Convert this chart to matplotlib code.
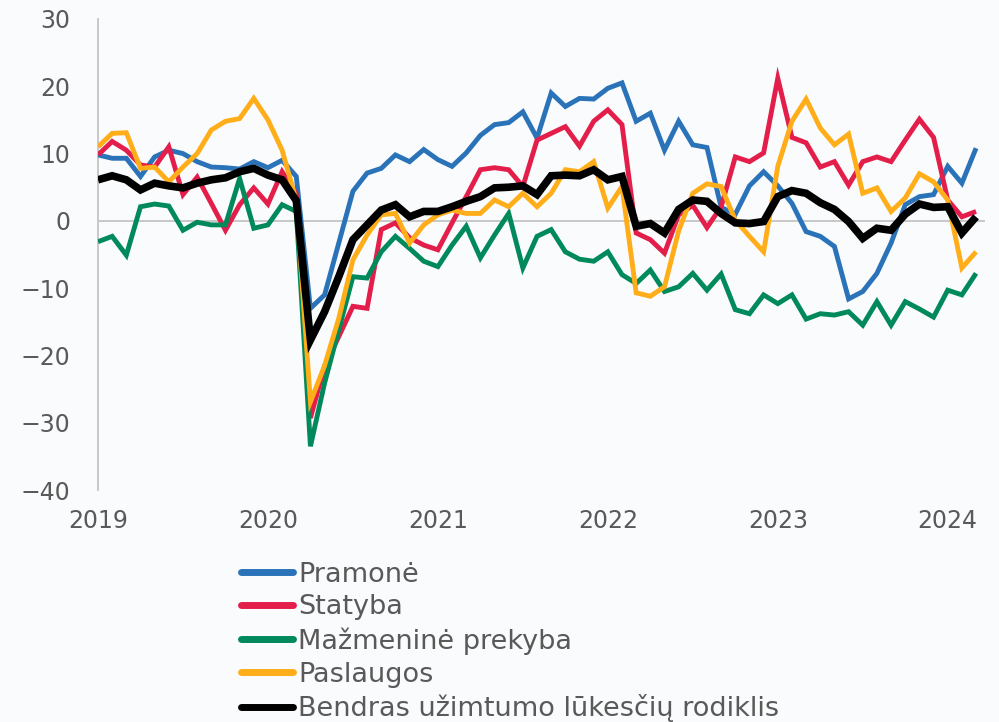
import numpy as np
import matplotlib
matplotlib.use("Agg")
import matplotlib.pyplot as plt

# monthly values, Jan 2019 .. Mar 2024
start_year = 2019
pramone = [9.8, 9.3, 9.3, 6.6, 9.5, 10.5, 10.0, 8.8, 8.0, 7.9, 7.7, 8.8, 7.9, 9.0, 6.6,
           -13.0, -11.0, -3.3,
           4.4, 7.1, 7.8, 9.8, 8.8, 10.6, 9.1, 8.1, 10.1, 12.7, 14.3,
           14.6, 16.2, 12.3, 19.0, 17.0, 18.2, 18.1, 19.7, 20.5, 14.8, 16.0, 10.5, 14.8, 11.3, 10.9,
           2.0, 1.0, 5.2, 7.3, 5.2, 2.6, -1.6, -2.3, -3.8, -11.6, -10.5, -7.8, -3.3, 2.4, 3.6, 3.9,
           8.1, 5.6, 10.8]
statyba = [9.8, 11.8, 10.5, 8.3, 8.0, 11.0, 3.9, 6.5, 2.6, -1.4, 2.4, 4.9, 2.5, 7.3, 4.0,
           -29.3, -21.6, -17.2, -12.7, -13.0, -1.3, -0.3, -2.5, -3.6, -4.3, -0.3, 3.6, 7.6, 7.9,
           7.6, 5.1, 12.0, 13.0, 14.0, 11.1, 14.8, 16.5, 14.3, -1.8, -2.8, -4.8, 0.9,
           2.3, -1.0, 2.1, 9.5, 8.8, 10.1, 21.2, 12.4, 11.6, 8.0, 8.8, 5.3, 8.8, 9.5, 8.8, 12.0,
           15.1, 12.4, 3.1, 0.6, 1.4]
prekyba = [-3.1, -2.3, -5.1, 2.1, 2.5, 2.2, -1.4, -0.2, -0.6, -0.6, 6.3, -1.1, -0.6, 2.4, 1.4,
           -33.5, -24.1, -16.2, -8.3, -8.5, -4.6, -2.3, -4.1, -6.0, -6.8, -3.6, -0.8,
           -5.5, -2.1, 1.1, -7.0, -2.3, -1.3, -4.6, -5.7, -6.0, -4.6, -8.0, -9.3, -7.3, -10.5,
           -9.8, -7.8, -10.3, -7.9,
           -13.2, -13.8, -11.0, -12.3, -11.0, -14.6, -13.8, -14.0, -13.5, -15.5, -12.0, -15.5,
           -12.0, -13.1, -14.3, -10.3, -11.0, -7.8]
paslaugos = [11.0, 13.0, 13.1, 7.8, 8.0, 5.8, 8.0, 10.0, 13.5, 14.8, 15.2, 18.2, 15.0, 10.5, 3.0,
             -26.9, -21.5, -14.5, -5.8, -2.1, 0.9, 1.1, -3.3, -0.6, 0.9, 1.6, 1.1,
             1.1, 3.1, 2.1, 4.1, 2.1, 4.1, 7.6, 7.3, 8.8, 1.9, 5.1, -10.7, -11.2, -9.8, -1.5,
             4.1, 5.5, 5.1, 0.1, -2.3, -4.6, 8.1, 14.8, 18.1, 13.8, 11.3, 12.9, 4.1, 4.9, 1.4,
             3.4, 7.0, 5.8, 3.1, -7.0, -4.6]
bendras = [6.1, 6.7, 6.1, 4.6, 5.6, 5.2, 4.9, 5.6, 6.1, 6.4, 7.3, 7.8, 6.8, 6.1, 3.0,
           -17.7, -13.5, -8.3, -2.8, -0.6, 1.6, 2.4, 0.6, 1.4, 1.4, 2.1, 2.9,
           3.6, 4.9, 5.0, 5.2, 3.9, 6.7, 6.8, 6.7, 7.6, 6.1, 6.6, -0.8, -0.4, -1.8, 1.7, 3.1,
           2.9, 1.1, -0.3, -0.4, -0.1, 3.6, 4.5, 4.1, 2.7, 1.7, -0.1, -2.6, -1.1, -1.4, 1.0,
           2.5, 2.0, 2.1, -1.8, 0.6]

labels = ["Pramonė", "Statyba", "Mažmeninė prekyba", "Paslaugos",
          "Bendras užimtumo lūkesčių rodiklis"]
colors = ["#2a73b9", "#e31e4b", "#00895b", "#ffae1a", "#000000"]
year_ticks = [2019, 2020, 2021, 2022, 2023, 2024]
y_ticks = [30, 20, 10, 0, -10, -20, -30, -40]

text_color = "#595959"
grid_color = "#c4c4c4"
bg = "#fafbfc"

x = start_year + np.arange(len(bendras)) / 12.0

fig = plt.figure(figsize=(9.99, 7.22), dpi=100, facecolor=bg)
ax = fig.add_axes([0.0981, 0.3213, 0.888, 0.6524])
ax.set_facecolor(bg)

series = [pramone, statyba, prekyba, paslaugos, bendras]
for values, label, color in zip(series, labels, colors):
    lw = 5.5 if color == "#000000" else 3.5
    ax.plot(x, values, color=color, lw=lw, label=label,
            solid_joinstyle="miter", solid_capstyle="butt", zorder=3)

ax.axhline(0, color=grid_color, lw=1.3, zorder=2)
ax.set_xlim(2019, 2024.22)
ax.set_ylim(-40, 30)
ax.set_xticks(year_ticks)
ax.set_yticks(y_ticks)
ax.tick_params(axis="both", length=0, labelsize=17, colors=text_color)
ax.tick_params(axis="x", pad=14)
ax.tick_params(axis="y", pad=20)
for side in ["top", "right", "bottom"]:
    ax.spines[side].set_visible(False)
ax.spines["left"].set_color(grid_color)
ax.spines["left"].set_linewidth(1.3)

handles, _ = ax.get_legend_handles_labels()
leg = fig.legend(handles, labels, loc="upper left", bbox_to_anchor=(0.241, 0.222),
                 frameon=False, fontsize=19.5, handlelength=1.93, handletextpad=0.18,
                 labelspacing=0.25, borderpad=0, borderaxespad=0)
for t in leg.get_texts():
    t.set_color(text_color)
for line in leg.get_lines():
    line.set_linewidth(5)
    line.set_solid_capstyle("round")

fig.savefig("out.png", dpi=100, facecolor=bg)
